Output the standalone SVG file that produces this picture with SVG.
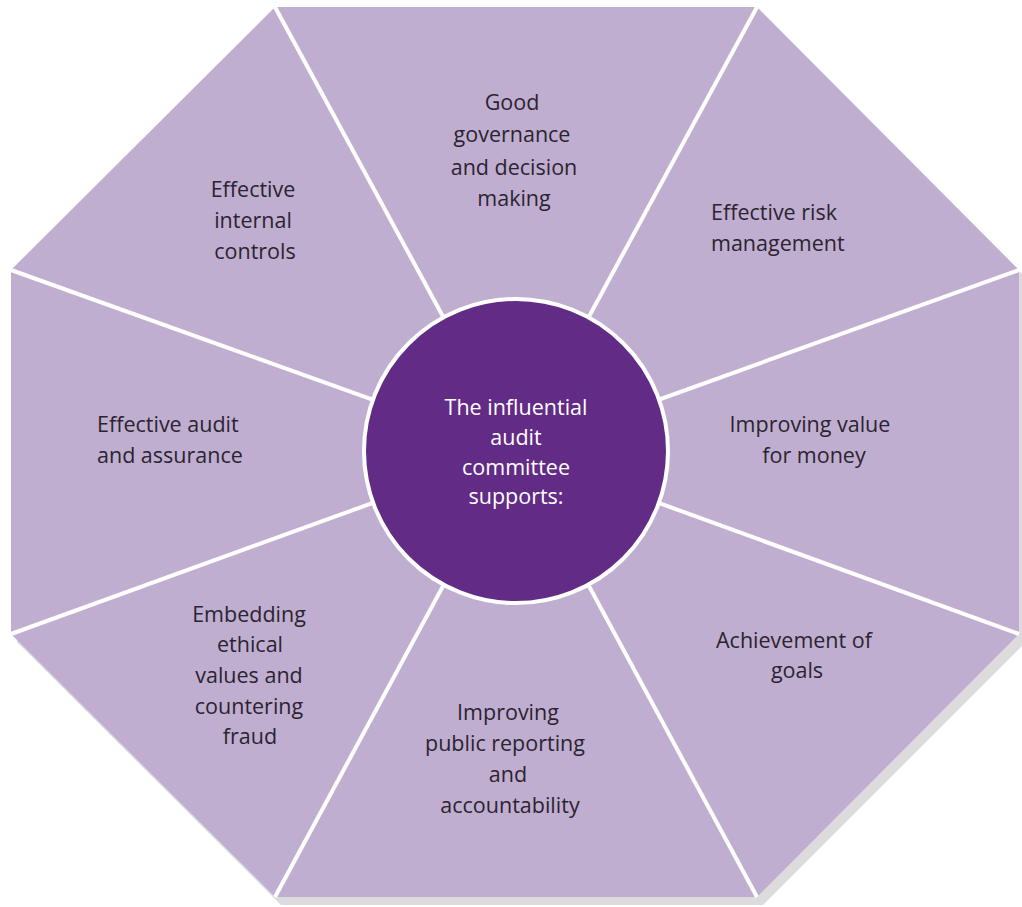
<svg xmlns="http://www.w3.org/2000/svg" width="1022" height="907" viewBox="0 0 1022 907">
<style>
.seg{fill:#c0aed0}
.lbl{font-family:"Open Sans","Liberation Sans",sans-serif;font-size:21.5px;fill:#2b2430;text-anchor:middle}
.ctr{font-family:"Open Sans","Liberation Sans",sans-serif;font-size:21.5px;fill:#ffffff;text-anchor:middle}
.div{stroke:#ffffff;stroke-width:4;fill:none}
</style>
<polygon points="281,15 763,15 1026,278 1026,642 763,905 281,905 17,642 17,278" fill="#dcdcdf"/>
<polygon class="seg" points="275,7 757,7 1019,270 1019,634 757,897 275,897 11,634 11,270"/>
<g id="connectors">
<line class="div" x1="275" y1="7" x2="516" y2="451"/>
<line class="div" x1="757" y1="7" x2="516" y2="451"/>
<line class="div" x1="1019" y1="270" x2="516" y2="451"/>
<line class="div" x1="1019" y1="634" x2="516" y2="451"/>
<line class="div" x1="757" y1="897" x2="516" y2="451"/>
<line class="div" x1="275" y1="897" x2="516" y2="451"/>
<line class="div" x1="11" y1="634" x2="516" y2="451"/>
<line class="div" x1="11" y1="270" x2="516" y2="451"/>
</g>
<g id="center">
<circle cx="516" cy="451" r="152" fill="#622b86" stroke="#ffffff" stroke-width="4"/>
<text class="ctr"><tspan x="516" y="415">The influential</tspan><tspan x="516" y="445">audit</tspan><tspan x="516" y="475">committee</tspan><tspan x="516" y="504">supports:</tspan></text>
</g>
<g id="governance">
<text class="lbl"><tspan x="512" y="110">Good</tspan><tspan x="512" y="142">governance</tspan><tspan x="514" y="175">and decision</tspan><tspan x="514" y="206">making</tspan></text>
</g>
<g id="risk">
<text class="lbl" style="text-anchor:start"><tspan x="711" y="220">Effective risk</tspan><tspan x="711" y="251">management</tspan></text>
</g>
<g id="value">
<text class="lbl"><tspan x="810" y="432">Improving value</tspan><tspan x="814" y="463">for money</tspan></text>
</g>
<g id="goals">
<text class="lbl"><tspan x="794" y="648">Achievement of</tspan><tspan x="797" y="678">goals</tspan></text>
</g>
<g id="reporting">
<text class="lbl"><tspan x="508" y="720">Improving</tspan><tspan x="505" y="751">public reporting</tspan><tspan x="508" y="782">and</tspan><tspan x="510" y="813">accountability</tspan></text>
</g>
<g id="ethics">
<text class="lbl"><tspan x="249" y="622">Embedding</tspan><tspan x="250" y="652">ethical</tspan><tspan x="249" y="683">values and</tspan><tspan x="249" y="714">countering</tspan><tspan x="250" y="744">fraud</tspan></text>
</g>
<g id="audit">
<text class="lbl" style="text-anchor:start"><tspan x="97" y="432">Effective audit</tspan><tspan x="97" y="463">and assurance</tspan></text>
</g>
<g id="controls">
<text class="lbl"><tspan x="253" y="197">Effective</tspan><tspan x="253" y="228">internal</tspan><tspan x="255" y="259">controls</tspan></text>
</g>
</svg>
